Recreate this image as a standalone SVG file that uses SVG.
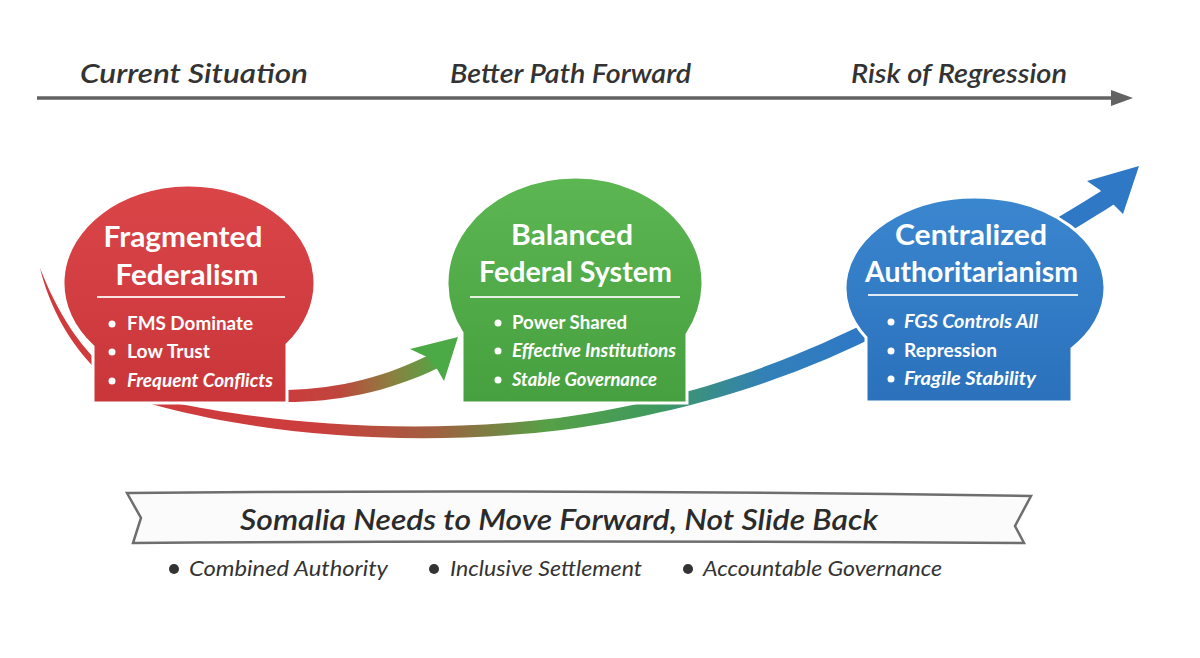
<svg xmlns="http://www.w3.org/2000/svg" width="1200" height="658" viewBox="0 0 1200 658">
<style>
.hdr{font-family:Lato,"Open Sans",sans-serif;font-style:italic;font-weight:600;font-size:27px;fill:#333;}
.ttl{font-family:Lato,"Open Sans",sans-serif;font-weight:700;font-size:29px;fill:#fff;text-anchor:middle;}
.blt{font-family:Lato,"Open Sans",sans-serif;font-weight:700;font-size:19px;fill:#fff;}
.it{font-style:italic;}
.sep{stroke:#fff;stroke-width:2;opacity:0.85;}
.dot{fill:#fff;}
.node{stroke:#fff;stroke-width:3;}
.ban{font-family:Lato,"Open Sans",sans-serif;font-style:italic;font-weight:600;font-size:29px;fill:#2b2b2b;text-anchor:middle;}
.sub{font-family:Lato,"Open Sans",sans-serif;font-style:italic;font-size:22px;fill:#333;}
</style>
<defs>
<linearGradient id="gRed" x1="0" y1="0" x2="0" y2="1"><stop offset="0" stop-color="#da4548"/><stop offset="1" stop-color="#c9363a"/></linearGradient>
<linearGradient id="gGreen" x1="0" y1="0" x2="0" y2="1"><stop offset="0" stop-color="#5cb652"/><stop offset="1" stop-color="#47a03f"/></linearGradient>
<linearGradient id="gBlue" x1="0" y1="0" x2="0" y2="1"><stop offset="0" stop-color="#3a86cf"/><stop offset="1" stop-color="#2b71bc"/></linearGradient>
<linearGradient id="gLong" gradientUnits="userSpaceOnUse" x1="40" y1="0" x2="1140" y2="0">
<stop offset="0" stop-color="#d03a3d"/><stop offset="0.25" stop-color="#cc3d3d"/><stop offset="0.36" stop-color="#a06040"/><stop offset="0.46" stop-color="#56a046"/><stop offset="0.56" stop-color="#3f9a5e"/><stop offset="0.66" stop-color="#3280b8"/><stop offset="0.75" stop-color="#2e78c6"/><stop offset="1" stop-color="#2e78c6"/>
</linearGradient>
<linearGradient id="gShort" gradientUnits="userSpaceOnUse" x1="280" y1="0" x2="445" y2="0">
<stop offset="0" stop-color="#cc3b3c"/><stop offset="0.35" stop-color="#c0453d"/><stop offset="0.68" stop-color="#8a8040"/><stop offset="1" stop-color="#4caa46"/>
</linearGradient>
</defs>
<rect width="1200" height="658" fill="#fff"/>

<g id="timeline">
<line x1="37" y1="98" x2="1116" y2="98" stroke="#626262" stroke-width="3.5"/>
<polygon points="1133,98 1111,90 1111,106" fill="#626262"/>
<text class="hdr" x="80" y="83" textLength="228" lengthAdjust="spacingAndGlyphs">Current Situation</text>
<text class="hdr" x="450" y="83" textLength="241" lengthAdjust="spacingAndGlyphs">Better Path Forward</text>
<text class="hdr" x="851" y="83" textLength="216" lengthAdjust="spacingAndGlyphs">Risk of Regression</text>
</g>

<g id="connectors">
<path d="M40,268 C54,326 96,392 166,408 C260,432 400,449 562,430 C702,411 806,372 884,332 C955,296 1045,249 1116,203 L1106,188 C1034,233 948,283 876,318 C796,358 698,398 558,418 C400,437 262,421 170,402 C104,387 64,330 40,268 Z" fill="url(#gLong)"/>
<polygon points="1139,166 1087,181 1100,190 1110,201 1123,214" fill="#2e78c6"/>
<path d="M278,402 C330,403 385,394 440,367 L427,356 C378,380 330,390 278,390 Z" fill="url(#gShort)"/>
<polygon points="458,337 410,349 427,357 437,369 444,381" fill="#4caa46"/>
</g>

<g id="node-fragmented">
<path class="node" d="M93,403 L93,346.5 A126,98 0 1,1 287,344.6 L287,403 Z" fill="url(#gRed)"/>
<text class="ttl" x="183" y="247" textLength="159" lengthAdjust="spacingAndGlyphs">Fragmented</text>
<text class="ttl" x="187" y="285" textLength="143" lengthAdjust="spacingAndGlyphs">Federalism</text>
<line class="sep" x1="97" y1="297" x2="285" y2="297"/>
<circle class="dot" cx="112" cy="324" r="3.5"/>
<circle class="dot" cx="112" cy="352" r="3.5"/>
<circle class="dot" cx="112" cy="381" r="3.5"/>
<text class="blt" x="127" y="330" textLength="126" lengthAdjust="spacingAndGlyphs">FMS Dominate</text>
<text class="blt" x="127" y="358" textLength="83" lengthAdjust="spacingAndGlyphs">Low Trust</text>
<text class="blt it" x="127" y="387" textLength="146" lengthAdjust="spacingAndGlyphs">Frequent Conflicts</text>
</g>

<g id="node-balanced">
<path class="node" d="M462,403 L462,332.8 A128,106 0 1,1 687,334.3 L687,403 Z" fill="url(#gGreen)"/>
<text class="ttl" x="572" y="245" textLength="122" lengthAdjust="spacingAndGlyphs">Balanced</text>
<text class="ttl" x="575.5" y="282" textLength="193" lengthAdjust="spacingAndGlyphs">Federal System</text>
<line class="sep" x1="470" y1="297" x2="680" y2="297"/>
<circle class="dot" cx="498" cy="323" r="3.5"/>
<circle class="dot" cx="498" cy="351" r="3.5"/>
<circle class="dot" cx="498" cy="380" r="3.5"/>
<text class="blt" x="512" y="329" textLength="115" lengthAdjust="spacingAndGlyphs">Power Shared</text>
<text class="blt it" x="512" y="357" textLength="164" lengthAdjust="spacingAndGlyphs">Effective Institutions</text>
<text class="blt it" x="512" y="386" textLength="145" lengthAdjust="spacingAndGlyphs">Stable Governance</text>
</g>

<g id="node-centralized">
<path class="node" d="M866,402 L866,337.6 A130,91 0 1,1 1072,348.6 L1072,402 Z" fill="url(#gBlue)"/>
<text class="ttl" x="971" y="245" textLength="152" lengthAdjust="spacingAndGlyphs">Centralized</text>
<text class="ttl" x="971.5" y="282" textLength="213" lengthAdjust="spacingAndGlyphs">Authoritarianism</text>
<line class="sep" x1="868" y1="295" x2="1078" y2="295"/>
<circle class="dot" cx="891" cy="322" r="3.5"/>
<circle class="dot" cx="891" cy="351" r="3.5"/>
<circle class="dot" cx="891" cy="379" r="3.5"/>
<text class="blt it" x="904" y="328" textLength="134" lengthAdjust="spacingAndGlyphs">FGS Controls All</text>
<text class="blt" x="904" y="357" textLength="93" lengthAdjust="spacingAndGlyphs">Repression</text>
<text class="blt it" x="904" y="385" textLength="132" lengthAdjust="spacingAndGlyphs">Fragile Stability</text>
</g>

<g id="banner">
<path d="M127,493 Q580,489 1031,496 L1015,526 L1024,543 Q580,540 133,543 L141,518 Z" fill="#fbfbfb" stroke="#6e6e6e" stroke-width="2.5" stroke-linejoin="miter"/>
<text class="ban" x="559" y="530" textLength="638" lengthAdjust="spacingAndGlyphs">Somalia Needs to Move Forward, Not Slide Back</text>
</g>

<g id="principles">
<circle cx="174" cy="569" r="5" fill="#333"/>
<text class="sub" x="189" y="576" textLength="199" lengthAdjust="spacingAndGlyphs">Combined Authority</text>
<circle cx="434" cy="569" r="5" fill="#333"/>
<text class="sub" x="450" y="576" textLength="192" lengthAdjust="spacingAndGlyphs">Inclusive Settlement</text>
<circle cx="688" cy="569" r="5" fill="#333"/>
<text class="sub" x="703" y="576" textLength="239" lengthAdjust="spacingAndGlyphs">Accountable Governance</text>
</g>
</svg>
